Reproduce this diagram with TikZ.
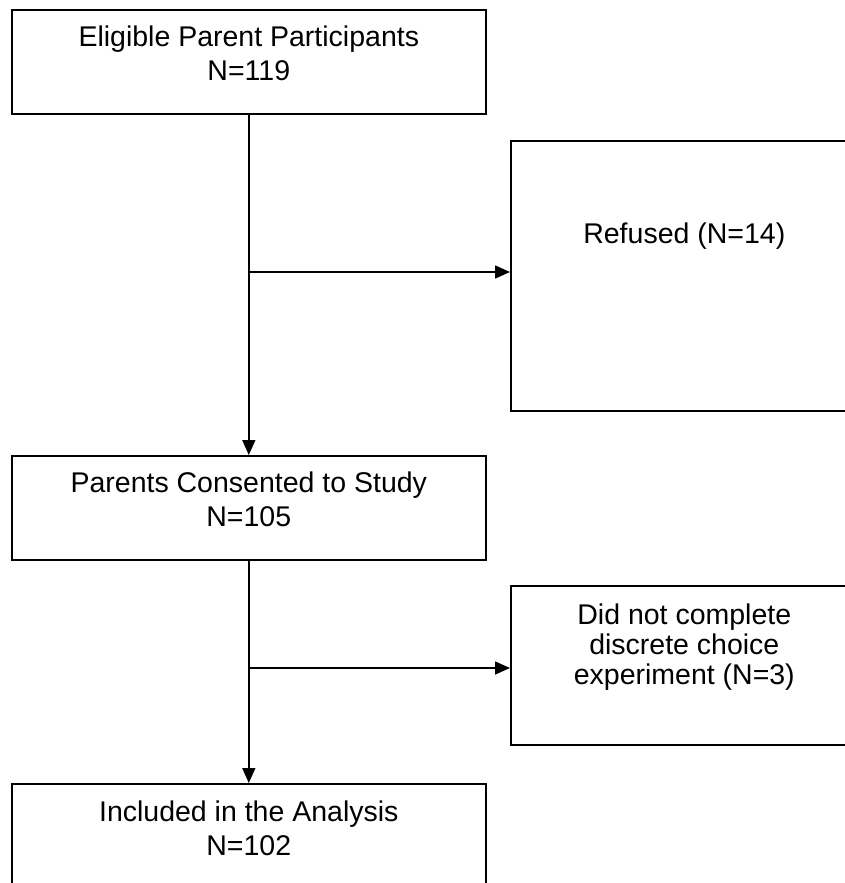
\documentclass[tikz,border=0pt]{standalone}
\usepackage{fontspec}
\setmainfont{Liberation Sans}
\usepackage{tikz}
\usetikzlibrary{arrows.meta,positioning}

\tikzset{
  stagebox/.style={draw, line width=1.6pt, rectangle, anchor=north west, inner sep=0pt},
  boxtext/.style={anchor=north, align=center, inner sep=0pt, font=\fontsize{28.5}{34}\selectfont},
  flow/.style={line width=1.6pt, -{Triangle[length=15pt,width=13pt]}}
}

\begin{document}
\begin{tikzpicture}[x=1pt, y=-1pt]
\useasboundingbox (0,0) rectangle (845,883);

% main column
\node[stagebox, minimum width=474pt, minimum height=104pt] (elig) at (11,9) {};
\node[stagebox, minimum width=474pt, minimum height=104pt] (consent) at (11,455) {};
\node[stagebox, minimum width=474pt, minimum height=104pt] (incl) at (11,783) {};

% exclusions
\node[stagebox, minimum width=347pt, minimum height=270pt] (refused) at (510,140) {};
\node[stagebox, minimum width=347pt, minimum height=159pt] (dnc) at (510,585) {};

% texts
\node[boxtext, below=17pt of elig.north] (eligtxt) {Eligible Parent Participants\\N=119};
\node[boxtext, below=17pt of consent.north] (consenttxt) {Parents Consented to Study\\N=105};
\node[boxtext, below=18pt of incl.north] (incltxt) {Included in the Analysis\\N=102};
\node[boxtext, below=83pt of refused.north] (refusedtxt) {Refused (N=14)};
\node[boxtext, below=19pt of dnc.north, font=\fontsize{28.5}{30}\selectfont] (dnctxt) {Did not complete\\discrete choice\\experiment (N=3)};

% connectors
\coordinate (split1) at (elig.south |- 0,272);
\coordinate (split2) at (consent.south |- 0,668);
\draw[flow] (elig.south) -- (consent.north);
\draw[flow] (split1) -- (split1 -| refused.west);
\draw[flow] (consent.south) -- (incl.north);
\draw[flow] (split2) -- (split2 -| dnc.west);
\end{tikzpicture}
\end{document}
